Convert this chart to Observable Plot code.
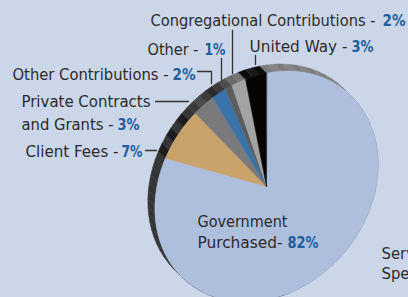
<!DOCTYPE html>
<html><head><meta charset="utf-8">
<script src="https://cdn.jsdelivr.net/npm/d3@7"></script>
<script src="https://cdn.jsdelivr.net/npm/@observablehq/plot@0.6"></script>
<style>
html,body{margin:0;padding:0;background:#cbd6e8;overflow:hidden;width:408px;height:297px}
svg{display:block}
</style></head><body><div id="chart"></div>
<script>
// ---- data ----
const categories = ["Government Purchased","Client Fees","Private Contracts and Grants","Other Contributions","Other","Congregational Contributions","United Way"];
const shares = [82, 7, 3, 2, 1, 2, 3];
const nameLines = [["Government","Purchased-"],["Client Fees -"],["Private Contracts","and Grants -"],["Other Contributions -"],["Other -"],["Congregational Contributions -"],["United Way -"]];
const pctLabels = ["82%","7%","3%","2%","1%","2%","3%"];
const extraLines = ["Serv","Spe"];

// ---- styles ----
const sliceColors = ["#adbfdc","#caa36c","#7a7a7a","#3a73a9","#5c5c5c","#a3a3a3","#050505"];
const rimColors = [["#7b7b7b","#858585"],["#1c1c1c","#363636"],["#3a3a3a","#4a4a4a"],["#2a2a2a","#3a3a3a"],["#4e4e4e","#5a5a5a"],["#6a6a6a","#767676"],["#0a0a0a","#1a1a1a"]];
const govLeftRim = "#343434";

// ---- layout (pixels) ----
const W = 408, H = 297;
const cx = 266, cy = 186, RA = 124, RB = 102, phi = 50 * Math.PI / 180;
const rimD = [-7, -7];
const startT = -45.6;
const ux = Math.cos(phi), uy = -Math.sin(phi), wx = Math.sin(phi), wy = Math.cos(phi);
function pt(tdeg) {
  const t = tdeg * Math.PI / 180, c = Math.cos(t), s = Math.sin(t);
  return [cx + RA * c * ux + RB * s * wx, cy + RA * c * uy + RB * s * wy];
}
// name: [x, baseline, width]; pct: [x, baseline, width]
const labelPos = [
  {name: [[197, 226, 90], [197, 247, 85]], pct: [287, 247, 31]},
  {name: [[25, 156, 93]], pct: [121, 156, 21]},
  {name: [[21, 106, 129], [21, 129, 92]], pct: [117, 129, 22]},
  {name: [[12, 79, 156]], pct: [172, 79, 23]},
  {name: [[147, 54, 51]], pct: [204, 54, 21]},
  {name: [[150, 25, 225]], pct: [382, 25, 23]},
  {name: [[249, 51, 98]], pct: [351, 51, 22]}
];
const extraPos = [[381, 258], [381, 278]];
const leaders = [
  null,
  [[145,150],[156,150]],
  [[155,101],[188,101]],
  [[197,71],[211,71],[211,83]],
  [[221,58],[221,80]],
  [[232,30],[232,73]],
  [[255,55],[255,64]]
];

// ---- geometry from data ----
const total = d3.sum(shares);
let acc = 0;
const slices = shares.map((v, i) => {
  const a0 = startT + acc / total * 360; acc += v;
  const a1 = startT + acc / total * 360;
  return {i, a0, a1};
});
const faceRows = [], rimRows = [];
slices.forEach(s => {
  const id = "face" + s.i;
  faceRows.push({id, x: cx, y: cy, fill: sliceColors[s.i]});
  const n = Math.max(2, Math.ceil((s.a1 - s.a0) / 1));
  for (let k = 0; k <= n; k++) {
    const [x, y] = pt(s.a0 + (s.a1 - s.a0) * k / n);
    faceRows.push({id, x, y, fill: sliceColors[s.i]});
  }
  const m = Math.max(1, Math.round((s.a1 - s.a0) / 4));
  for (let k = 0; k < m; k++) {
    const t0 = s.a0 + (s.a1 - s.a0) * k / m, t1 = s.a0 + (s.a1 - s.a0) * (k + 1) / m;
    let col = rimColors[s.i][k % 2];
    if (s.i === 0) col = (t0 > 120) ? govLeftRim : rimColors[0][k % 2];
    const rid = `rim${s.i}_${k}`;
    const steps = 3;
    const pts = [];
    for (let j = 0; j <= steps; j++) pts.push(pt(t0 + (t1 - t0) * j / steps));
    const poly = pts.concat(pts.slice().reverse().map(([x, y]) => [x + rimD[0], y + rimD[1]]));
    poly.forEach(([x, y]) => rimRows.push({id: rid, x, y, fill: col}));
  }
});
const leaderRows = [];
leaders.forEach((l, i) => { if (l) l.forEach(([x, y]) => leaderRows.push({id: i, x, y})); });
const nameRows = [], pctRows = [];
labelPos.forEach((p, i) => {
  p.name.forEach(([x, y, w], j) => nameRows.push({x, y, w, text: nameLines[i][j]}));
  pctRows.push({x: p.pct[0], y: p.pct[1], w: p.pct[2], text: pctLabels[i]});
});
extraPos.forEach(([x, y], j) => nameRows.push({x, y, w: null, text: extraLines[j]}));

const font = "'Liberation Sans Narrow','DejaVu Sans Condensed',sans-serif";
const chart = Plot.plot({
  width: W, height: H, margin: 0,
  x: {domain: [0, W], range: [0, W], axis: null},
  y: {domain: [0, H], range: [0, H], axis: null},
  color: {type: "identity"},
  style: {background: "#cbd6e8", overflow: "hidden"},
  marks: [
    Plot.line(rimRows, {x: "x", y: "y", z: "id", fill: "fill", stroke: "fill", strokeWidth: 0.5, curve: "linear-closed"}),
    Plot.line(faceRows, {x: "x", y: "y", z: "id", fill: "fill", stroke: "fill", strokeWidth: 0.5, curve: "linear-closed"}),
    Plot.line(leaderRows, {x: "x", y: "y", z: "id", stroke: "#333", strokeWidth: 1.3}),
    Plot.text(nameRows, {x: "x", y: "y", text: "text", textAnchor: "start", lineAnchor: "bottom", fill: "#2b2b2b", fontSize: 16.5, fontFamily: font}),
    Plot.text(pctRows, {x: "x", y: "y", text: "text", textAnchor: "start", lineAnchor: "bottom", fill: "#1d5e9f", fontSize: 16.5, fontWeight: "bold", fontFamily: font})
  ]
});
// fit each label to its measured width
const groups = chart.querySelectorAll('g[aria-label="text"]');
[nameRows, pctRows].forEach((rows, gi) => {
  if (!groups[gi]) return;
  const texts = groups[gi].querySelectorAll("text");
  texts.forEach((t, k) => {
    const w = rows[k] && rows[k].w;
    if (w) { t.setAttribute("textLength", w); t.setAttribute("lengthAdjust", "spacingAndGlyphs"); }
  });
});
document.getElementById("chart").append(chart);
</script></body></html>
